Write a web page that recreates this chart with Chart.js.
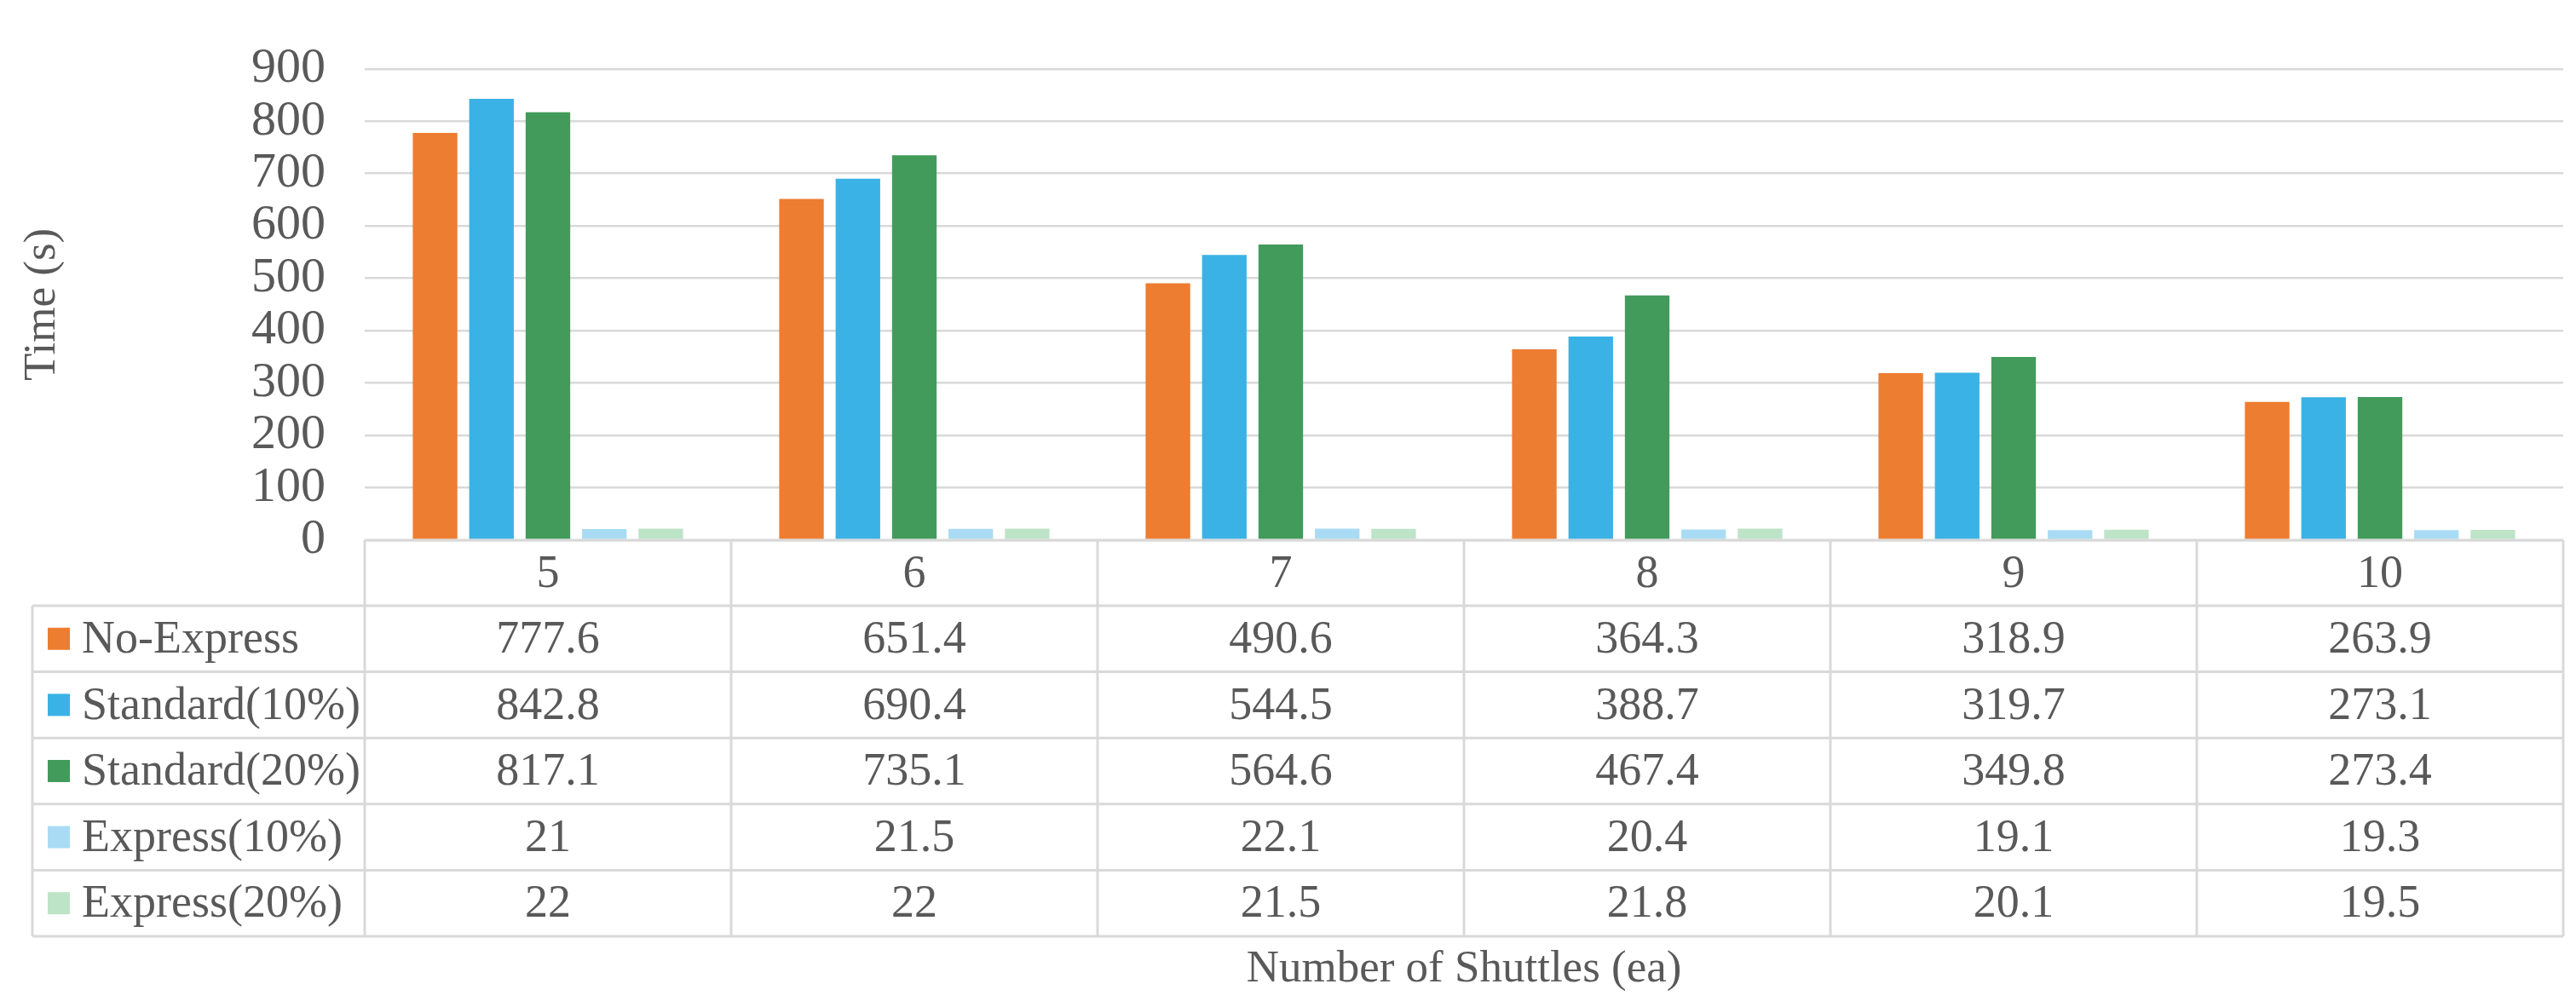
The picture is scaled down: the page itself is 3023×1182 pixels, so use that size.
<!DOCTYPE html>
<html>
<head>
<meta charset="utf-8">
<script src="https://cdn.jsdelivr.net/npm/chart.js@4.4.1/dist/chart.umd.min.js"></script>
<style>
  html, body { margin: 0; padding: 0; background: #fff; }
  #wrap { width: 3023px; height: 1182px; }
</style>
</head>
<body>
<div id="wrap"><canvas id="chart" width="3023" height="1182"></canvas></div>
<script>
// data
const categories = ['5', '6', '7', '8', '9', '10'];
const seriesNames = ['No-Express', 'Standard(10%)', 'Standard(20%)', 'Express(10%)', 'Express(20%)'];
const noExpress  = [777.6, 651.4, 490.6, 364.3, 318.9, 263.9];
const standard10 = [842.8, 690.4, 544.5, 388.7, 319.7, 273.1];
const standard20 = [817.1, 735.1, 564.6, 467.4, 349.8, 273.4];
const express10  = [21, 21.5, 22.1, 20.4, 19.1, 19.3];
const express20  = [22, 22, 21.5, 21.8, 20.1, 19.5];
const yTicks = [0, 100, 200, 300, 400, 500, 600, 700, 800, 900];

const seriesValues = [noExpress, standard10, standard20, express10, express20];
const seriesColors = ['#ED7D31', '#3BB2E5', '#429B5B', '#A9DCF4', '#BEE4C8'];

const FONT = "'Times New Roman', 'Liberation Serif', serif";
const TEXT = '#595959';
const LINE = '#D9D9D9';

// Excel-style data table under the plot, aligned to the category scale
const dataTable = {
    id: 'dataTable',
    afterDraw(chart) {
        const { ctx, chartArea } = chart;
        const x = chart.scales.x;
        const n = categories.length;
        const colW = (chartArea.right - chartArea.left) / n;
        const top = chartArea.bottom;
        const catH = 77, rowH = 77.6;
        const tableLeft = 38;
        const rows = chart.data.datasets.length;
        const bottom = top + catH + rows * rowH;

        const line = (x1, y1, x2, y2) => {
            ctx.beginPath(); ctx.moveTo(x1, y1); ctx.lineTo(x2, y2); ctx.stroke();
        };

        ctx.save();
        ctx.strokeStyle = LINE;
        ctx.lineWidth = 3;
        line(chartArea.left, top, chartArea.right, top);
        for (let r = 0; r <= rows; r++) {
            const y = top + catH + r * rowH;
            line(tableLeft, y, chartArea.right, y);
        }
        for (let i = 0; i <= n; i++) {
            const xx = chartArea.left + i * colW;
            line(xx, top, xx, bottom);
        }
        line(tableLeft, top + catH, tableLeft, bottom);

        ctx.fillStyle = TEXT;
        ctx.font = '54px ' + FONT;
        ctx.textBaseline = 'middle';
        ctx.textAlign = 'center';
        categories.forEach((c, i) => {
            ctx.fillText(c, x.getPixelForValue(i), top + catH / 2 + 2);
        });

        chart.data.datasets.forEach((ds, r) => {
            const cy = top + catH + r * rowH + rowH / 2 + 2;
            ctx.textAlign = 'center';
            ctx.fillStyle = TEXT;
            ds.data.forEach((v, i) => {
                ctx.fillText(String(v), x.getPixelForValue(i), cy);
            });
            ctx.fillStyle = ds.backgroundColor;
            ctx.fillRect(56, cy - 15, 26, 26);
            ctx.fillStyle = TEXT;
            ctx.textAlign = 'left';
            ctx.fillText(ds.label, 96, cy);
        });

        ctx.font = '53px ' + FONT;
        ctx.textAlign = 'center';
        ctx.fillText('Number of Shuttles (ea)', (chartArea.left + chartArea.right) / 2, 1138);
        ctx.restore();
    }
};

new Chart(document.getElementById('chart'), {
    type: 'bar',
    data: {
        labels: categories,
        datasets: seriesNames.map((name, i) => ({
            label: name,
            data: seriesValues[i],
            backgroundColor: seriesColors[i],
            borderWidth: 0,
            categoryPercentage: 0.77,
            barPercentage: 0.79
        }))
    },
    options: {
        responsive: false,
        animation: false,
        devicePixelRatio: 1,
        layout: { padding: { top: 55, bottom: 548, left: 0, right: 15 } },
        plugins: {
            legend: { display: false },
            tooltip: { enabled: false }
        },
        scales: {
            x: { display: false },
            y: {
                min: 0,
                max: 900,
                afterBuildTicks(scale) { scale.ticks = yTicks.map(v => ({ value: v })); },
                afterFit(scale) { scale.width = 428; },
                border: { display: false },
                grid: { color: LINE, lineWidth: 2.5, drawTicks: false },
                ticks: {
                    color: TEXT,
                    padding: 46,
                    autoSkip: false,
                    font: { family: FONT, size: 58 }
                },
                title: {
                    display: true,
                    text: 'Time (s)',
                    color: TEXT,
                    padding: { top: 18, bottom: 0 },
                    font: { family: FONT, size: 53 }
                }
            }
        }
    },
    plugins: [dataTable]
});
</script>
</body>
</html>
